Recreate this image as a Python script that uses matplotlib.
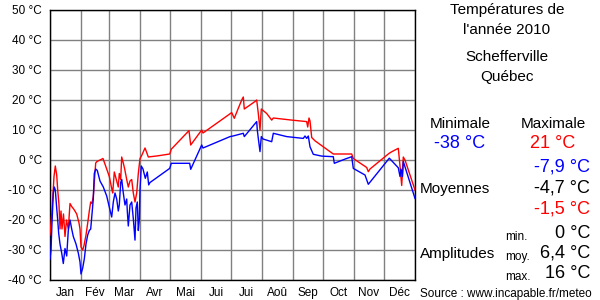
import matplotlib
matplotlib.use('Agg')
import matplotlib.pyplot as plt
from matplotlib.ticker import FixedLocator, NullFormatter

plt.rcParams['font.family'] = ['Liberation Sans', 'DejaVu Sans']

# daily max (red) and min (blue) temperatures, day of year from 0
max_days = [0, 1.7, 2.7, 4, 5.3, 6.7, 7.7, 9, 10, 11, 12, 13.5, 15, 16.5, 18.3, 20,
            21.7, 24, 26.7, 29, 30, 31, 32.7, 34, 36, 37.7, 39.3, 40.7, 42, 43.3,
            44.3, 45.7, 47, 50, 53, 56.7, 59.3, 61.7, 62.7, 64.3, 66.7, 68.3, 69.3,
            70.7, 71.7, 73.3, 74.7, 76.7, 78.3, 80, 81.7, 83.3, 85, 86.7, 88.3, 90,
            91.7, 95, 96.7, 98.3, 108, 119.7, 121.3, 139, 140.7, 151.7, 153, 181.7,
            184.3, 188, 191.7, 193.3, 194.3, 205, 206.7, 208.3, 210, 211.3, 216.7,
            221.7, 223.3, 241.7, 256.7, 257.7, 259, 260, 261.7, 265, 273.3, 283.3,
            301.7, 303.3, 316.7, 318.3, 320, 339, 342, 348.3, 350, 351.7, 353.3,
            355, 365]
max_vals = [-25, -18, -13, -5.5, -2, -5, -10, -15, -23, -17, -23, -18, -25.5, -20,
            -23, -14.5, -15.5, -16.5, -18, -21, -23, -29, -30, -28.5, -25, -21, -17,
            -14, -14.5, -12, -7.5, -1, -0.5, 0, 0.5, -3, -5.5, -9.5, -11, -4, -7,
            -9, -4.5, -6.5, 1, -1, -3, -6.5, -9, -7, -6.5, -11, -14, -11, -4.5, 0.5,
            1.5, 4, 2.5, 1, 1.4, 2, 3.6, 9.8, 5, 10, 9, 15.8, 13.9, 17, 20, 21, 17,
            19.5, 20, 15.5, 10, 17, 15.5, 13.3, 14, 13.3, 12.8, 11, 14, 13, 7.5,
            6.4, 4.4, 2, 2, 0.5, -2.5, -3.9, -3, 2.2, 2.8, 3.9, -2, -8.5, 1, 0, -10]

min_days = [0, 1, 2, 3.3, 4.3, 5.3, 6.7, 7.7, 8.7, 10, 11.7, 13.3, 15, 16.7, 18.3,
            20, 21.7, 23.3, 26, 28.3, 30, 31, 32.7, 34.3, 36, 37.7, 39.3, 40.7, 42,
            43.3, 44.3, 45.7, 47.3, 50, 53.3, 56.7, 60, 61.7, 63.3, 65, 66.7, 68.3,
            69.3, 70.7, 71.7, 73.3, 75, 76.7, 77.3, 78.3, 80, 81.7, 83.3, 85, 86,
            87.3, 88.3, 89.3, 90, 91.3, 93, 95.3, 97.3, 98.7, 100, 119.7, 121.3,
            139.7, 140.7, 151.7, 153, 180, 183, 193.3, 194.3, 206.7, 207.3, 208.3,
            210, 211.3, 213, 221.7, 223.3, 236.7, 253.3, 255, 256.7, 258.3, 260,
            263.3, 271.7, 283.3, 284.3, 295, 301.7, 303.3, 315, 318.3, 339.3, 341,
            348.3, 350, 351, 352.5, 353.3, 365]
min_vals = [-33, -30, -21, -11, -9, -10, -16, -20, -24.5, -28, -31, -34.5, -29.5,
            -32, -23.5, -20, -23, -25.5, -28, -31, -34, -38, -36, -33, -28, -25,
            -23.5, -23, -18, -13, -4.5, -3, -3.5, -7, -9, -12, -16.7, -19, -14, -11,
            -13, -17, -15, -7.5, -6.5, -11, -15, -13, -17, -22, -15, -14, -19.5,
            -26.7, -16, -14, -23.5, -20, -10, -2, -3, -6.1, -4, -8.3, -7.5, -2.8,
            -1.1, -1.1, -3.1, 5, 4, 7.8, 8, 8.9, 7.8, 12.8, 10, 7.2, 2.8, 7.8, 7,
            6.1, 8.9, 7.8, 7.2, 8, 7.2, 8, 4.4, 1.9, 1.3, 1.1, -1.1, 0.3, 1.1, -2.8,
            -5, -8.1, 0.6, 0, -2.6, -5.5, -3, -5.5, -0.5, -12.8]

month_starts = [0, 31, 59, 90, 120, 151, 181, 212, 243, 273, 304, 334, 365]
month_names = ['Jan', 'Fév', 'Mar', 'Avr', 'Mai', 'Jui', 'Jui', 'Aoû', 'Sep',
               'Oct', 'Nov', 'Déc']
y_ticks = [-40, -30, -20, -10, 0, 10, 20, 30, 40, 50]

stat_min = '-38 °C'
stat_max = '21 °C'
avg_min = '-7,9 °C'
avg_mean = '-4,7 °C'
avg_max = '-1,5 °C'
amp_min = '0 °C'
amp_mean = '6,4 °C'
amp_max = '16 °C'

W, H = 600, 300
fig = plt.figure(figsize=(6, 3), dpi=100)
ax = fig.add_axes([50 / W, 20 / H, 365 / W, 270 / H])

ax.plot(max_days, max_vals, color='#ff0000', lw=1.0, zorder=3)
ax.plot(min_days, min_vals, color='#0000ff', lw=1.0, zorder=3)

ax.set_xlim(0, 365)
ax.set_ylim(-40, 50)
ax.set_yticks(y_ticks)
ax.set_yticklabels([f'{v} °C' for v in y_ticks])
ax.xaxis.set_major_locator(FixedLocator(month_starts))
ax.xaxis.set_major_formatter(NullFormatter())
mids = [(month_starts[i] + month_starts[i + 1]) / 2 for i in range(12)]
ax.set_xticks(mids, minor=True)
ax.set_xticklabels(month_names, minor=True)
ax.tick_params(axis='both', which='both', length=0, labelsize=8.5, colors='black')
ax.tick_params(axis='y', pad=6)
ax.tick_params(axis='x', which='minor', pad=5)
ax.grid(True, which='major', color='#808080', lw=1.0)
ax.set_axisbelow(True)
for s in ax.spines.values():
    s.set_color('black')
    s.set_linewidth(1.0)


def txt(x, y, s, size=11, color='black', ha='center'):
    fig.text(x / W, 1 - y / H, s, fontsize=size, color=color, ha=ha, va='center')


txt(507, 10, 'Températures de')
txt(507, 30, "l'année 2010")
txt(507, 57, 'Schefferville')
txt(507, 77, 'Québec')
txt(460, 124, 'Minimale')
txt(553, 124, 'Maximale')
txt(460, 144, stat_min, size=13, color='#0000ff')
txt(553, 144, stat_max, size=13, color='#ff0000')
txt(590, 167, avg_min, size=13, color='#0000ff', ha='right')
txt(420, 189, 'Moyennes', ha='left')
txt(590, 188, avg_mean, size=13, ha='right')
txt(590, 209, avg_max, size=13, color='#ff0000', ha='right')
txt(505, 237, 'min.', size=8.5, ha='left')
txt(590, 233, amp_min, size=13, ha='right')
txt(420, 254, 'Amplitudes', ha='left')
txt(505, 257, 'moy.', size=8.5, ha='left')
txt(590, 253, amp_mean, size=13, ha='right')
txt(505, 277, 'max.', size=8.5, ha='left')
txt(590, 274, amp_max, size=13, ha='right')
txt(420, 294, 'Source : www.incapable.fr/meteo', size=8.5, ha='left')

fig.savefig('out.png', dpi=100)
